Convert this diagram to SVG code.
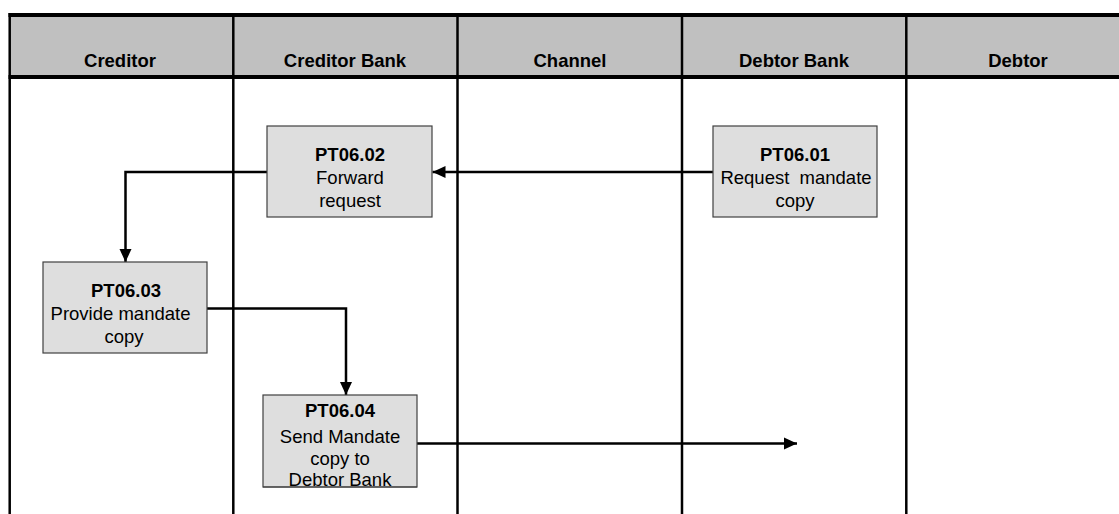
<svg xmlns="http://www.w3.org/2000/svg" width="1119" height="514" viewBox="0 0 1119 514">
<style>
.hdr{fill:#C0C0C0}
.hline{stroke:#000;stroke-width:4}
.vline{stroke:#000;stroke-width:2.5}
.hl{font-family:"Liberation Sans",Arial,sans-serif;font-size:18.5px;font-weight:bold;text-anchor:middle;fill:#000}
.box{fill:#DEDEDE;stroke:#404040;stroke-width:1.2}
.t{font-family:"Liberation Sans",Arial,sans-serif;font-size:18.5px;text-anchor:middle;fill:#000}
.tb{font-weight:bold}
.conn{fill:none;stroke:#000;stroke-width:2.5}
</style>
<defs>
<marker id="arr" markerUnits="userSpaceOnUse" markerWidth="14" markerHeight="14" refX="13" refY="7" orient="auto">
<path d="M0,1 L13,7 L0,13 Z" fill="#000"/>
</marker>
</defs>
<rect width="1119" height="514" fill="#fff"/>
<g id="lanes">
<rect class="hdr" x="9.5" y="15" width="1110" height="62"/>
<line class="vline" x1="9.7" y1="13" x2="9.7" y2="514"/>
<line class="vline" x1="233.3" y1="15" x2="233.3" y2="514"/>
<line class="vline" x1="457.5" y1="15" x2="457.5" y2="514"/>
<line class="vline" x1="682" y1="15" x2="682" y2="514"/>
<line class="vline" x1="906.3" y1="15" x2="906.3" y2="514"/>
<line class="hline" x1="8.5" y1="15" x2="1119" y2="15"/>
<line class="hline" x1="8.5" y1="77" x2="1119" y2="77"/>
<text class="hl" x="120" y="66.5">Creditor</text>
<text class="hl" x="345" y="66.5">Creditor Bank</text>
<text class="hl" x="570" y="66.5">Channel</text>
<text class="hl" x="794" y="66.5">Debtor Bank</text>
<text class="hl" x="1018" y="66.5">Debtor</text>
</g>
<g id="connectors">
<path class="conn" d="M713,172 H432.5" marker-end="url(#arr)"/>
<path class="conn" d="M267,172 H125.5 V262" marker-end="url(#arr)"/>
<path class="conn" d="M207,308.5 H346 V395" marker-end="url(#arr)"/>
<path class="conn" d="M417,443.5 H797" marker-end="url(#arr)"/>
</g>
<g id="PT06.01">
<rect class="box" x="713" y="126" width="164" height="91"/>
<text class="t tb" x="795" y="161">PT06.01</text>
<text class="t" x="796" y="184" xml:space="preserve">Request  mandate</text>
<text class="t" x="795" y="207">copy</text>
</g>
<g id="PT06.02">
<rect class="box" x="267" y="126" width="165" height="91"/>
<text class="t tb" x="350" y="161">PT06.02</text>
<text class="t" x="350" y="184">Forward</text>
<text class="t" x="350" y="207">request</text>
</g>
<g id="PT06.03">
<rect class="box" x="43" y="262" width="164" height="91"/>
<text class="t tb" x="126" y="297">PT06.03</text>
<text class="t" x="120.5" y="320">Provide mandate</text>
<text class="t" x="124" y="343">copy</text>
</g>
<g id="PT06.04">
<rect class="box" x="263" y="395" width="154" height="92"/>
<text class="t tb" x="340" y="417">PT06.04</text>
<text class="t" x="340" y="443">Send Mandate</text>
<text class="t" x="340" y="465">copy to</text>
<text class="t" x="340" y="486">Debtor Bank</text>
<line x1="263" y1="487" x2="417" y2="487" stroke="#404040" stroke-width="1.2"/>
</g>
</svg>
